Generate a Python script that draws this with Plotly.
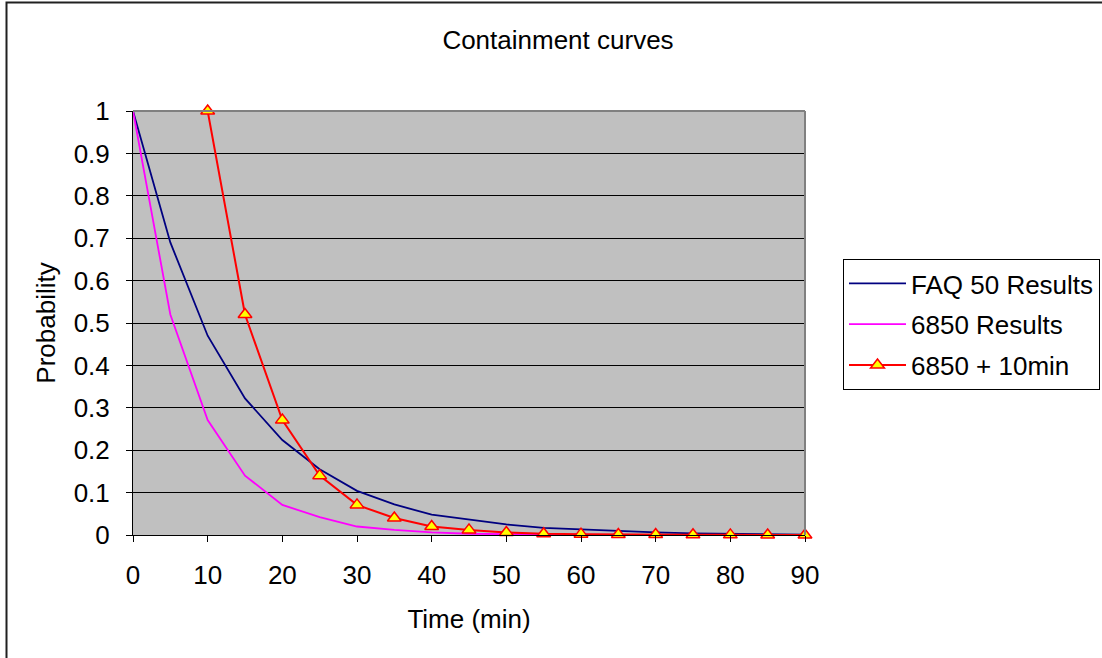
import plotly.graph_objects as go

# Data
time_faq = [0, 5, 10, 15, 20, 25, 30, 35, 40, 45, 50, 55, 60, 65, 70, 75, 80, 85, 90]
faq50 = [1.0, 0.69, 0.47, 0.322, 0.224, 0.155, 0.104, 0.072, 0.048, 0.036, 0.025,
         0.017, 0.013, 0.009, 0.006, 0.004, 0.003, 0.002, 0.001]

time_6850 = [0, 5, 10, 15, 20, 25, 30, 35, 40, 45, 50, 55, 60, 65, 70, 75, 80, 85, 90]
r6850 = [1.0, 0.52, 0.271, 0.14, 0.071, 0.042, 0.02, 0.012, 0.006, 0.003, 0.002,
         0.001, 0.001, 0.0005, 0.0003, 0.0002, 0.0001, 0.0001, 0.0]

time_plus10 = [10, 15, 20, 25, 30, 35, 40, 45, 50, 55, 60, 65, 70, 75, 80, 85, 90]
r6850_plus10 = [1.0, 0.52, 0.271, 0.14, 0.071, 0.04, 0.02, 0.012, 0.006, 0.003,
                0.002, 0.001, 0.001, 0.0005, 0.0003, 0.0002, 0.0001]

x_ticks = [0, 10, 20, 30, 40, 50, 60, 70, 80, 90]
y_ticks = [0, 0.1, 0.2, 0.3, 0.4, 0.5, 0.6, 0.7, 0.8, 0.9, 1]
y_tick_labels = ["0", "0.1", "0.2", "0.3", "0.4", "0.5", "0.6", "0.7", "0.8", "0.9", "1"]

FONT = "Liberation Sans, Arial, sans-serif"
FS = 26

fig = go.Figure()
fig.add_trace(go.Scatter(x=time_faq, y=faq50, mode="lines", name="FAQ 50 Results",
                         legendgroup="a",
                         line=dict(color="#000080", width=1.8)))
fig.add_trace(go.Scatter(x=time_6850, y=r6850, mode="lines", name="6850 Results",
                         legendgroup="b",
                         line=dict(color="#FF00FF", width=1.8)))
fig.add_trace(go.Scatter(x=time_plus10, y=r6850_plus10, mode="lines+markers",
                         name="6850 + 10min", legendgroup="c",
                         line=dict(color="#FF0000", width=2),
                         marker=dict(symbol="triangle-up", size=12, color="#FFFF00",
                                     line=dict(color="#FF0000", width=1.5)),
                         cliponaxis=False))

W, H = 1102, 658
L, R, T, B = 133, 805, 111, 535

fig.update_layout(
    width=W, height=H,
    margin=dict(l=L, r=W - R, t=T, b=H - B, autoexpand=False),
    paper_bgcolor="white",
    plot_bgcolor="#C0C0C0",
    font=dict(family=FONT, size=FS, color="black"),
    title=dict(text="Containment curves", x=558 / W, xanchor="center",
               y=1 - 40 / H, yanchor="middle", font=dict(size=FS)),
    showlegend=True,
    legend=dict(x=(843 - L) / (R - L), xanchor="left",
                y=(B - 259) / (B - T), yanchor="top",
                bgcolor="white", bordercolor="#000000", borderwidth=1,
                font=dict(size=FS), tracegroupgap=4, itemwidth=57),
    xaxis=dict(range=[0, 90], tickmode="array", tickvals=x_ticks,
               showgrid=False, zeroline=False,
               showline=True, linecolor="black", linewidth=1,
               ticks="outside", ticklen=6, tickcolor="black",
               ticklabelstandoff=11, tickfont=dict(size=FS),
               title=dict(text="Time (min)", standoff=20, font=dict(size=FS)),
               automargin=False),
    yaxis=dict(range=[0, 1], tickmode="array", tickvals=y_ticks, ticktext=y_tick_labels,
               showgrid=True, gridcolor="black", gridwidth=1,
               zeroline=False,
               showline=True, linecolor="black", linewidth=1,
               ticks="outside", ticklen=6, tickcolor="black",
               ticklabelstandoff=11, tickfont=dict(size=FS),
               title=dict(text="Probability", standoff=10, font=dict(size=FS)),
               automargin=False),
    shapes=[
        # plot area gray frame (top and right)
        dict(type="line", xref="paper", yref="paper", x0=0, x1=1, y0=1, y1=1,
             line=dict(color="#808080", width=2), layer="above"),
        dict(type="line", xref="paper", yref="paper", x0=1, x1=1, y0=0, y1=1,
             line=dict(color="#808080", width=2), layer="above"),
        # outer chart border
        dict(type="rect", xref="paper", yref="paper",
             x0=(6.5 - L) / (R - L), x1=(1120 - L) / (R - L),
             y0=(B - 680) / (B - T), y1=(B - 2.5) / (B - T),
             line=dict(color="#202020", width=2), fillcolor="rgba(0,0,0,0)"),
    ],
)

fig.write_html("out.html")
